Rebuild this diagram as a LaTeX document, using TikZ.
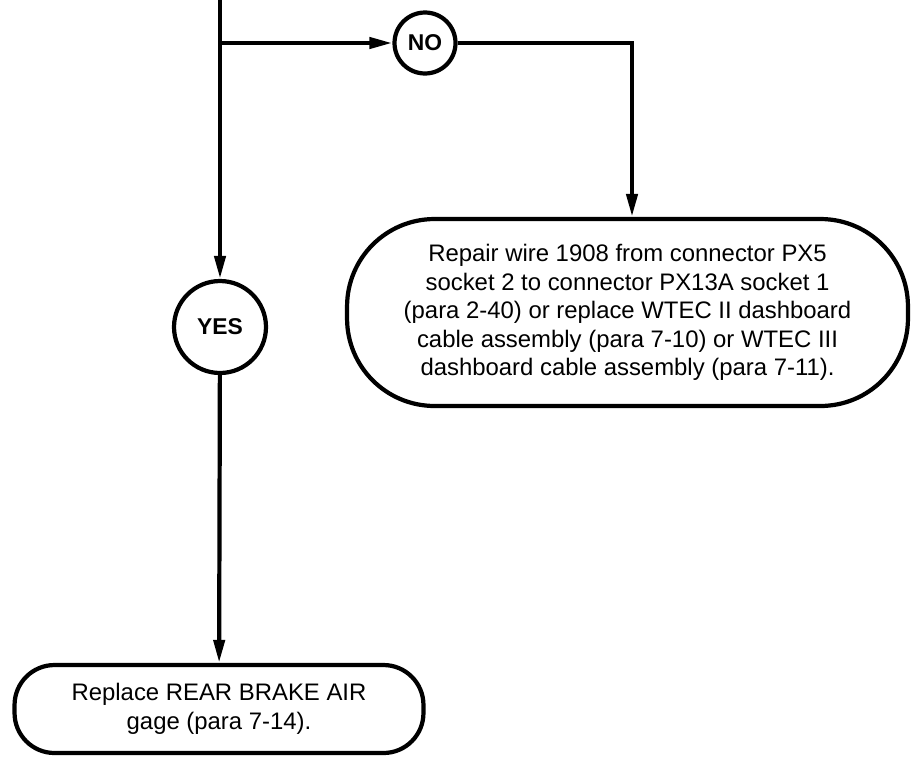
\documentclass[tikz,border=0pt]{standalone}
\usepackage{fontspec}
\setmainfont{Liberation Sans}
\usetikzlibrary{arrows.meta}
\tikzset{
  decision/.style={draw,circle,line width=2.4pt,inner sep=0pt,
    font=\bfseries\fontsize{13}{15}\selectfont},
  action/.style={draw,rounded corners=1.75cm,line width=2.4pt,align=center,
    font=\fontsize{13.6}{16.3}\selectfont},
  flow/.style={-{Triangle[length=0.46cm,width=0.22cm]},line width=2.4pt}
}

\begin{document}
\begin{tikzpicture}[x=0.02cm,y=-0.02cm]
\useasboundingbox (0,0) rectangle (911,758);

\coordinate (start) at (220,0);
\coordinate (split) at (220,43);
\coordinate (bend) at (632,43);

\node[decision,minimum size=1.22cm] (no) at (425,43) {NO};
\node[decision,minimum size=1.84cm] (yes) at (220,327) {YES};
\node[action,minimum width=11.22cm,minimum height=3.74cm] (repair) at (627.5,312.5)
  {Repair wire 1908 from connector PX5\\
   socket 2 to connector PX13A socket 1\\
   (para 2-40) or replace WTEC II dashboard\\
   cable assembly (para 7-10) or WTEC III\\
   dashboard cable assembly (para 7-11).};
\node[action,rounded corners=0.8cm,minimum width=8.18cm,minimum height=1.76cm] (gage) at (219,709)
  {Replace REAR BRAKE AIR\\gage (para 7-14).};

\draw[flow] (start) -- (yes);
\draw[flow] (split) -- (no);
\draw[flow] (no) -- (bend) -- (bend |- repair.north);
\draw[flow] (yes) -- (gage);

\end{tikzpicture}
\end{document}
